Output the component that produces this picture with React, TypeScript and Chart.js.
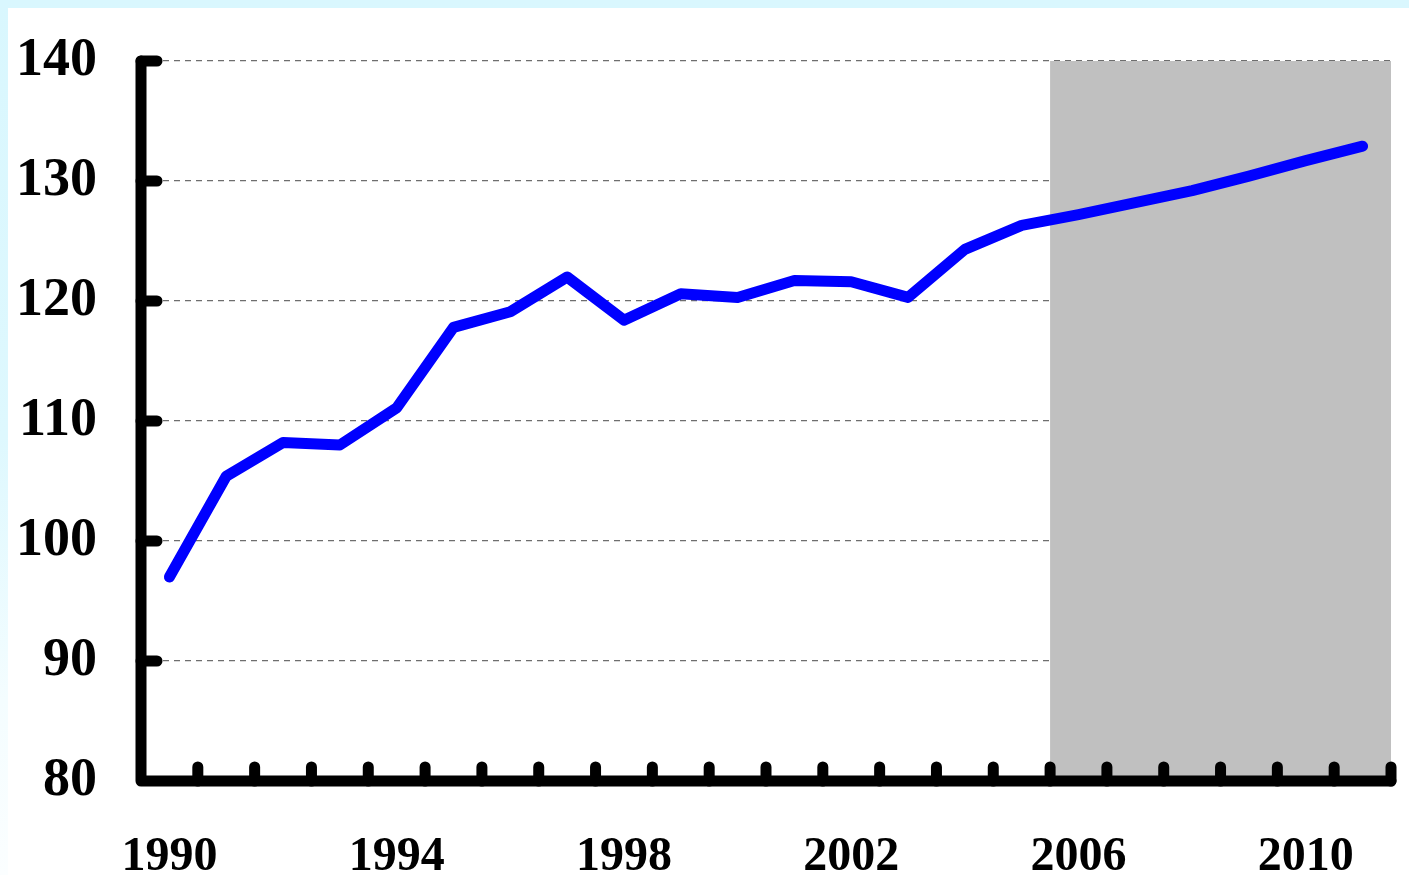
import React, { useEffect, useRef } from "react";
import { Chart, registerables } from "chart.js";

Chart.register(...registerables);

const years: string[] = [
  "1990", "1991", "1992", "1993", "1994", "1995", "1996", "1997", "1998", "1999", "2000",
  "2001", "2002", "2003", "2004", "2005", "2006", "2007", "2008", "2009", "2010", "2011",
];
const values: number[] = [
  97.0, 105.4, 108.2, 108.0, 111.1, 117.8, 119.1, 122.0, 118.4, 120.6, 120.3,
  121.7, 121.6, 120.3, 124.3, 126.3, 127.2, 128.2, 129.2, 130.4, 131.7, 132.9,
];
const labelYears: string[] = ["1990", "1994", "1998", "2002", "2006", "2010"];
const forecastStart = "2006";
const yMin = 80;
const yMax = 140;
const yStep = 10;

const W = 1409;
const H = 875;
const serif = '"Liberation Serif", "Times New Roman", serif';

const framePlugin = {
  id: "frame",
  beforeDatasetsDraw(chart: any) {
    const { ctx, chartArea, scales } = chart;
    const x = scales.x;
    const y = scales.y;
    const i0 = years.indexOf(forecastStart);
    const left = (x.getPixelForValue(i0 - 1) + x.getPixelForValue(i0)) / 2;
    const top = y.getPixelForValue(yMax);
    const bottom = y.getPixelForValue(yMin);
    ctx.save();
    ctx.fillStyle = "#c0c0c0";
    ctx.fillRect(left, top, chartArea.right - left, bottom - top);
    ctx.restore();
  },
  afterDatasetsDraw(chart: any) {
    const { ctx, chartArea, scales } = chart;
    const y = scales.y;
    const L = chartArea.left;
    const R = chartArea.right;
    const top = y.getPixelForValue(yMax);
    const bottom = y.getPixelForValue(yMin);
    ctx.save();
    ctx.strokeStyle = "#000";
    ctx.lineWidth = 11;
    ctx.lineCap = "round";
    ctx.lineJoin = "round";
    ctx.beginPath();
    ctx.moveTo(L, top);
    ctx.lineTo(L, bottom);
    ctx.lineTo(R, bottom);
    ctx.stroke();
    ctx.beginPath();
    for (let v = yMin + yStep; v <= yMax; v += yStep) {
      const py = y.getPixelForValue(v);
      ctx.moveTo(L, py);
      ctx.lineTo(L + 16, py);
    }
    const n = years.length;
    for (let i = 1; i <= n; i++) {
      const px = L + (i * (R - L)) / n;
      ctx.moveTo(px, bottom);
      ctx.lineTo(px, bottom - 14);
    }
    ctx.stroke();
    ctx.restore();
  },
};

export default function App() {
  const ref = useRef<HTMLCanvasElement | null>(null);
  useEffect(() => {
    if (!ref.current) return;
    const chart = new Chart(ref.current, {
      type: "line",
      data: {
        labels: years,
        datasets: [
          {
            data: values,
            borderColor: "#0000ff",
            borderWidth: 11,
            pointRadius: 0,
            tension: 0,
            borderCapStyle: "round",
            borderJoinStyle: "round",
            fill: false,
          },
        ],
      },
      options: {
        responsive: false,
        animation: false,
        devicePixelRatio: 1,
        layout: { padding: { left: 0, top: 61, right: 18, bottom: 0 } },
        plugins: { legend: { display: false }, tooltip: { enabled: false } },
        scales: {
          x: {
            type: "category",
            offset: true,
            grid: { display: false, drawTicks: false },
            border: { display: false },
            ticks: {
              autoSkip: false,
              maxRotation: 0,
              minRotation: 0,
              padding: 48,
              color: "#000",
              font: { family: serif, weight: "bold", size: 48 },
              callback: (_v: any, i: number) => (labelYears.includes(years[i]) ? years[i] : ""),
            },
            afterFit: (s: any) => {
              s.height = 94;
              s.paddingLeft = 0;
              s.paddingRight = 0;
            },
          },
          y: {
            min: yMin,
            max: yMax,
            grid: { color: "#6e6e6e", lineWidth: 1.2, drawTicks: false },
            border: { display: false, dash: [6, 5] },
            ticks: {
              stepSize: yStep,
              padding: 44,
              color: "#000",
              font: { family: serif, weight: "bold", size: 54 },
            },
            afterFit: (s: any) => {
              s.width = 141;
              s.paddingTop = 0;
              s.paddingBottom = 0;
            },
          },
        },
      },
      plugins: [framePlugin],
    });
    return () => chart.destroy();
  }, []);

  return (
    <div
      style={{
        position: "fixed",
        left: 0,
        top: 0,
        width: W,
        height: H,
        background: "linear-gradient(to bottom, #d9f7fe 0%, #def8fe 50%, #f4fdff 80%, #fbfeff 100%)",
        overflow: "hidden",
      }}
    >
      <div style={{ position: "absolute", left: 8, top: 8, right: 0, bottom: 0, background: "#fff" }} />
      <canvas ref={ref} width={W} height={H} style={{ position: "absolute", left: 0, top: 0, width: W, height: H }} />
    </div>
  );
}
